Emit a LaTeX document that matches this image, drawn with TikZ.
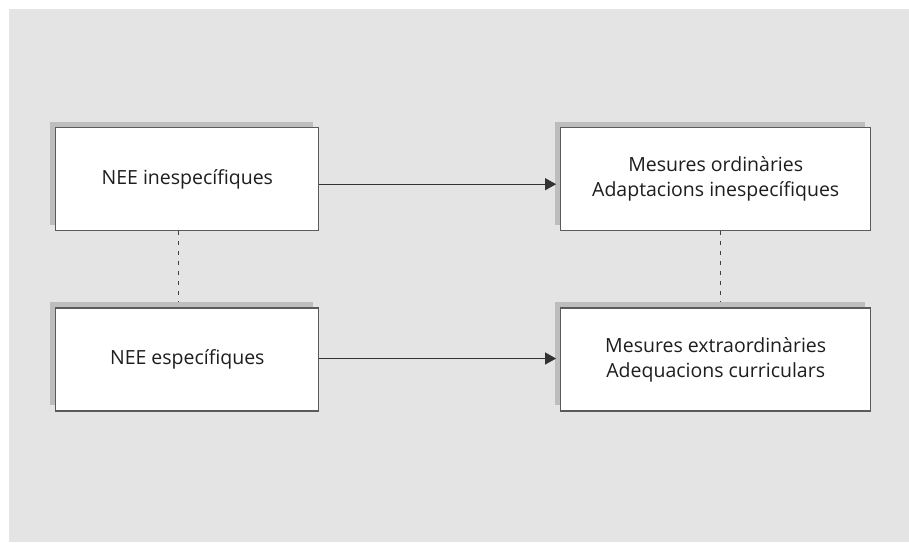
\documentclass[tikz,border=0pt]{standalone}
\usepackage{fontspec}
\setmainfont{Open Sans}
\usetikzlibrary{shadows, arrows.meta}

\definecolor{bggray}{HTML}{E4E4E4}
\definecolor{shadowgray}{HTML}{BDBDBD}
\definecolor{edgegray}{HTML}{5A5A5A}
\definecolor{inkgray}{HTML}{1E1E1E}

\begin{document}
\begin{tikzpicture}[x=1pt, y=-1pt,
    every node/.style={font=\fontsize{19.5}{25}\selectfont, text=inkgray},
    needbox/.style={draw=edgegray, line width=1.2pt, fill=white, align=center,
        inner sep=0pt, minimum height=103pt,
        general shadow={fill=shadowgray, shadow xshift=-6pt, shadow yshift=6pt}},
    link/.style={draw=black!80, line width=1pt, -{Triangle[length=11pt, width=12pt]}},
    tie/.style={draw=black!75, line width=1pt, dash pattern=on 4pt off 6pt}]

    % Background
    \useasboundingbox (0,0) rectangle (909,542);
    \fill[bggray] (9,9) rectangle (909,542);

    % Needs
    \node[needbox, minimum width=263pt] (inesp) at (187.3,179.2) {NEE inespecífiques};
    \node[needbox, minimum width=263pt] (esp) at (187.3,359.5) {NEE específiques};

    % Measures
    \node[needbox, minimum width=310pt] (ordin) at (715.7,179.2)
        {Mesures ordinàries\\Adaptacions inespecífiques};
    \node[needbox, minimum width=310pt] (extra) at (715.7,359.5)
        {Mesures extraordinàries\\Adequacions curriculars};

    % Arrows
    \draw[link] ([yshift=-5pt]inesp.east) -- ([xshift=-4pt, yshift=-5pt]ordin.west);
    \draw[link] ([yshift=1pt]esp.east) -- ([xshift=-4pt, yshift=1pt]extra.west);

    % Dashed ties
    \draw[tie] ([xshift=-9pt]inesp.south) -- ([xshift=-9pt, yshift=6pt]esp.north);
    \draw[tie] ([xshift=5pt]ordin.south) -- ([xshift=5pt, yshift=6pt]extra.north);

\end{tikzpicture}
\end{document}
